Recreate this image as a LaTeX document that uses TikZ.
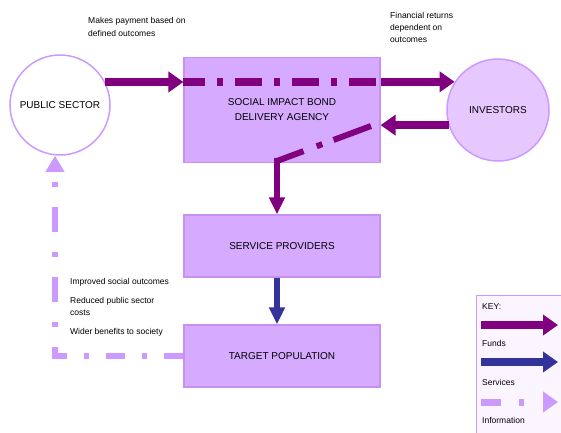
\documentclass[tikz,border=0pt]{standalone}
\usepackage{fontspec}
\setmainfont{Liberation Sans}
\usetikzlibrary{arrows.meta}
\definecolor{fundsc}{RGB}{128,0,128}
\definecolor{servc}{RGB}{51,51,153}
\definecolor{infoc}{RGB}{204,153,255}
\definecolor{boxfill}{RGB}{214,170,255}
\definecolor{boxline}{RGB}{198,144,245}
\definecolor{invfill}{RGB}{230,200,255}
\definecolor{keyfill}{RGB}{251,245,255}
\tikzset{
  box/.style={rectangle, draw=boxline, line width=1.2pt, fill=boxfill, minimum width=196pt, inner sep=0pt, font=\fontsize{10}{15}\selectfont, align=center},
  pscircle/.style={circle, draw=infoc, line width=1.5pt, fill=white, minimum size=100pt, inner sep=0pt, font=\fontsize{10}{12}\selectfont},
  invcircle/.style={circle, draw=infoc, line width=1.5pt, fill=invfill, minimum size=102pt, inner sep=0pt, font=\fontsize{10}{12}\selectfont},
  lbl/.style={font=\fontsize{8.5}{12.5}\selectfont, inner sep=0pt, align=left, anchor=north west},
  hfunds/.style={draw=fundsc, line width=7.5pt, -{Triangle[length=15pt,width=20pt]}},
  vfunds/.style={draw=fundsc, line width=5.5pt, -{Triangle[length=17pt,width=15pt]}},
  vserv/.style={draw=servc, line width=5.5pt, -{Triangle[length=17pt,width=15pt]}},
  hserv/.style={draw=servc, line width=7.5pt, -{Triangle[length=15pt,width=20pt]}},
  fundsdash/.style={draw=fundsc, line width=7.5pt, dash pattern=on 27pt off 12pt on 6pt off 12pt, dash phase=5pt},
  hinfo/.style={draw=infoc, line width=6pt, dash pattern=on 19pt off 17pt on 5pt off 17pt},
  vinfo/.style={draw=infoc, line width=6pt, dash pattern=on 25pt off 20pt on 5pt off 20pt, dash phase=16pt, -{Triangle[length=16pt,width=18pt]}},
  keyinfo/.style={draw=infoc, line width=7pt, dash pattern=on 20pt off 18pt on 5pt off 40pt, -{Triangle[length=15pt,width=20pt]}},
  keybox/.style={rectangle, draw=infoc, line width=1pt, fill=keyfill, anchor=north west, inner sep=0pt}
}
\begin{document}
\begin{tikzpicture}[x=1pt,y=-1pt]
\useasboundingbox (0,0) rectangle (561,432);
% main nodes
\node[box, minimum height=105pt] (sib) at (282,110) {SOCIAL IMPACT BOND\\DELIVERY AGENCY};
\node[box, minimum height=62pt] (sp) at (282,246) {SERVICE PROVIDERS};
\node[box, minimum height=62pt] (tp) at (282,356) {TARGET POPULATION};
\node[pscircle] (ps) at (60,105) {PUBLIC SECTOR};
\node[invcircle] (inv) at (498,110) {INVESTORS};
% labels
\node[lbl] (l1) at (88,17.5) {Makes payment based on\\defined outcomes};
\node[lbl, font=\fontsize{8.5}{12}\selectfont] (l2) at (390,12.5) {Financial returns\\dependent on\\outcomes};
\node[lbl] (l3) at (70,278) {Improved social outcomes};
\node[lbl] (l4) at (70,297) {Reduced public sector\\costs};
\node[lbl] (l5) at (70,328.5) {Wider benefits to society};
% funds top
\draw[hfunds] (ps.27) -- (sib.west |- ps.27);
\draw[fundsdash] (sib.west |- ps.27) -- (sib.east |- ps.27);
\draw[hfunds] (sib.east |- inv.147) -- (inv.147);
% return from investors
\draw[hfunds] (inv.197) -- (sib.east |- inv.197);
\coordinate (c1) at (371,126);
\coordinate (c2) at (277,161);
\draw[draw=fundsc, line width=6pt, dash pattern=on 40pt off 12pt on 6pt off 14pt] (c1) -- (c2);
\draw[vfunds] ([yshift=3pt]c2) -- (c2 |- sp.north);
% services
\draw[vserv] (c2 |- sp.south) -- (c2 |- tp.north);
% information
\coordinate (c3) at (55,356);
\draw[hinfo] (tp.west) -- ([xshift=-3pt]c3);
\draw[vinfo] (c3) -- (c3 |- ps.south);
% key
\node[keybox, minimum width=92pt, minimum height=142pt] (key) at (476,295) {};
\node[lbl] (k1) at (482,303) {KEY:};
\coordinate (kf1) at (481,325);
\coordinate (kf2) at (558,325);
\draw[hfunds] (kf1) -- (kf2);
\node[lbl] (k2) at (482,340) {Funds};
\coordinate (ks1) at (481,362);
\coordinate (ks2) at (558,362);
\draw[hserv] (ks1) -- (ks2);
\node[lbl] (k3) at (482,379) {Services};
\coordinate (ki1) at (481,402);
\coordinate (ki2) at (558,402);
\draw[keyinfo] (ki1) -- (ki2);
\node[lbl] (k4) at (482,417) {Information};
\end{tikzpicture}
\end{document}
